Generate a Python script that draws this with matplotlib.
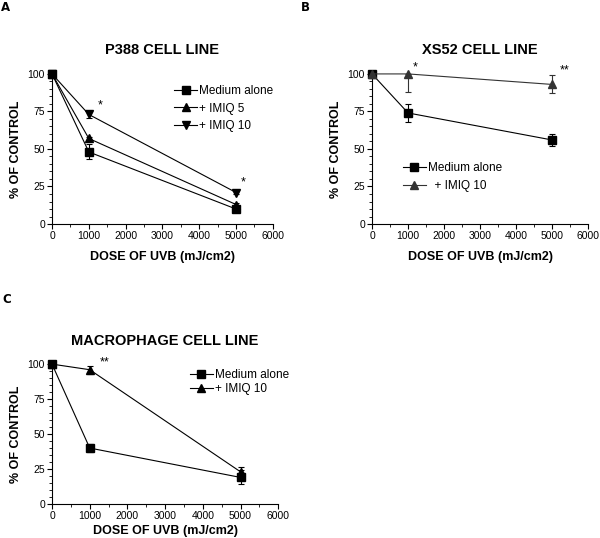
import matplotlib
matplotlib.use("Agg")
import matplotlib.pyplot as plt
from matplotlib.lines import Line2D
from matplotlib.ticker import MultipleLocator

plt.rcParams['font.family'] = ['Liberation Sans', 'DejaVu Sans']

dose = [0, 1000, 5000]

# panel A - P388
a_medium = [100, 48, 10]
a_medium_err = [0, 5, 1.5]
a_imiq5 = [100, 57, 13]
a_imiq5_err = [0, 1, 1]
a_imiq10 = [100, 73, 21]
a_imiq10_err = [0, 2.5, 1]

# panel B - XS52
b_medium = [100, 74, 56]
b_medium_err = [0, 6, 4]
b_imiq10 = [100, 100, 93]
b_imiq10_err_low = [0, 12, 6]
b_imiq10_err_high = [0, 0, 6]

# panel C - macrophage
c_medium = [100, 40, 19]
c_medium_err = [0, 3, 5]
c_imiq10 = [100, 96, 23]
c_imiq10_err = [0, 3, 3.5]

fig = plt.figure(figsize=(6, 5.38), dpi=100)

axA = fig.add_axes([0.0867, 0.5836, 0.368, 0.279])
axB = fig.add_axes([0.62, 0.5836, 0.36, 0.279])
axC = fig.add_axes([0.0867, 0.0632, 0.377, 0.26])


def style(ax, title, xpad=7):
    ax.set_xlim(0, 6000)
    ax.set_ylim(0, 100)
    ax.set_xticks(range(0, 6001, 1000))
    ax.set_yticks([0, 25, 50, 75, 100])
    ax.xaxis.set_minor_locator(MultipleLocator(500))
    ax.yaxis.set_minor_locator(MultipleLocator(5))
    ax.tick_params(which='major', direction='out', length=3.5, width=0.8, labelsize=7.5, pad=1.5)
    ax.tick_params(which='minor', direction='out', length=2, width=0.6)
    for lab in ax.get_xticklabels() + ax.get_yticklabels():
        lab.set_family(['Liberation Sans Narrow', 'Liberation Sans'])
    ax.spines['top'].set_visible(False)
    ax.spines['right'].set_visible(False)
    for s in ('left', 'bottom'):
        ax.spines[s].set_linewidth(0.8)
    ax.set_title(title, fontsize=10.5, fontweight='bold', pad=14)
    ax.set_xlabel("DOSE OF UVB (mJ/cm2)", fontsize=9, fontweight='bold', labelpad=xpad)
    ax.set_ylabel("% OF CONTROL", fontsize=9, fontweight='bold', labelpad=4)


def series(ax, y, err, marker, color='black'):
    ax.errorbar(dose, y, yerr=err, marker=marker, ms=5.5, color=color, lw=0.8,
                elinewidth=0.8, capsize=2.5, capthick=0.8, clip_on=False, zorder=3)


def handle(marker, color='black'):
    return Line2D([], [], marker=marker, ms=5.5, color=color, lw=0.8)


def legend(ax, handles, labels, anchor, spacing):
    ax.legend(handles, labels, loc='upper left', bbox_to_anchor=anchor, frameon=False,
              fontsize=8.5, handlelength=2, handletextpad=0.15, labelspacing=spacing,
              borderaxespad=0)


# A
series(axA, a_medium, a_medium_err, 's')
series(axA, a_imiq5, a_imiq5_err, '^')
series(axA, a_imiq10, a_imiq10_err, 'v')
style(axA, "P388 CELL LINE")
axA.text(1300, 77, "*", fontsize=9, ha='center')
axA.text(5200, 26, "*", fontsize=9, ha='center')
legend(axA, [handle('s'), handle('^'), handle('v')],
       ["Medium alone", "+ IMIQ 5", "+ IMIQ 10"], (0.53, 0.96), 0.5)

# B
series(axB, b_medium, b_medium_err, 's')
series(axB, b_imiq10, [b_imiq10_err_low, b_imiq10_err_high], '^', color='#333333')
style(axB, "XS52 CELL LINE")
axB.text(1200, 102, "*", fontsize=9, ha='center')
axB.text(5350, 100, "**", fontsize=9, ha='center')
legend(axB, [handle('s'), handle('^', '#333333')],
       ["Medium alone", "  + IMIQ 10"], (0.12, 0.445), 0.55)

# C
series(axC, c_medium, c_medium_err, 's')
series(axC, c_imiq10, c_imiq10_err, '^')
style(axC, "MACROPHAGE CELL LINE", xpad=3)
axC.text(1400, 99, "**", fontsize=9, ha='center')
legend(axC, [handle('s'), handle('^')],
       ["Medium alone", "+ IMIQ 10"], (0.587, 1.0), 0.2)

fig.text(0.001, 0.998, "A", fontsize=8.5, fontweight='bold', family='DejaVu Sans', va='top')
fig.text(0.501, 0.998, "B", fontsize=8.5, fontweight='bold', family='DejaVu Sans', va='top')
fig.text(0.004, 0.455, "C", fontsize=8.5, fontweight='bold', family='DejaVu Sans', va='top')

fig.savefig("out.png", dpi=100)
